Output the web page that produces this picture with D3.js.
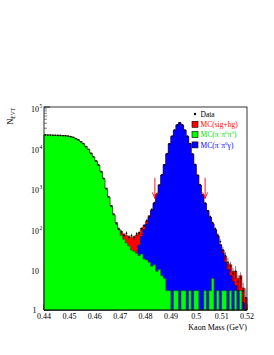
<!DOCTYPE html>
<html><head><meta charset="utf-8">
<script src="https://cdn.jsdelivr.net/npm/d3@7"></script>
<style>html,body{margin:0;padding:0;background:#fff;}svg{display:block;}</style>
</head><body>
<script>
// ---- data (bins of 0.001 GeV from 0.44 to 0.52) ----
const binStart = 0.44;
const binWidth = 0.001;
const mcGreen = [20500,20400,20300,20200,20100,20000,19900,19700,19500,19200,
  18700,17900,16800,15500,14000,12500,10700,9000,7300,5900,
  4700,3700,2600,1700,1000,600,370,220,140,95,
  68,55,45,38,30,28,25,22,24,18,
  17,15,12,13,9,10,7,6,3,3,
  1,3,3,1,3,3,1,3,1,3,
  3,1,1,3,1,3,6,1,3,1,
  3,3,1,3,1,3,1,3,1,0];
const mcBlue = [0,0,0,0,0,0,0,0,0,0,
  0,0,0,0,0,0,0,0,0,0,
  0,0,0,0,0,0,0,1,1,2,
  3,4,5,7,10,15,25,40,65,95,
  130,190,280,420,700,1200,2100,3800,7000,12500,
  19000,27000,36000,41000,36000,27000,19000,12500,7000,3800,
  2100,1200,700,420,280,190,130,95,65,40,
  25,15,10,7,5,4,3,2,1.5,1];
const mcOther = [0,0,0,0,0,0,0,0,0,0,
  0,0,0,0,0,0,0,0,0,0,
  0,0,0,0,0,0,0,0,0,0,
  15,15,18,20,20,22,20,18,15,10,
  8,5,3,0,0,0,0,0,0,0,
  0,0,0,0,0,0,0,0,0,0,
  0,0,0,0,0,0,0,0,0,0,
  2,3,3,3,3,2,2,2,1,1];
const dataCounts = [20600,20300,20350,20100,20150,19900,19950,19600,19550,19100,
  18600,17950,16700,15600,13900,12600,10600,9100,7200,6000,
  4650,3750,2550,1750,980,620,360,230,135,100,
  85,70,78,62,68,60,75,80,100,120,
  160,200,300,440,720,1180,2150,3750,7100,12400,
  19200,26800,36200,40800,36300,26900,19100,12600,6900,3850,
  2080,1220,690,430,275,200,140,100,70,48,
  30,22,15,12,8,9,5,6,3,2];
const cutValues = [0.4837, 0.5035];
const arrowRange = [1800, 560];
const xTicks = [0.44,0.45,0.46,0.47,0.48,0.49,0.50,0.51,0.52];
const xTickLabels = ["0.44","0.45","0.46","0.47","0.48","0.49","0.5","0.51","0.52"];
const yTicks = [1,10,100,1000,10000,100000];
const yTickExp = ["","", "2","3","4","5"];
const yTickBase = ["1","10","10","10","10","10"];
const legendLabels = [
  {name:"Data", parts:[["Data",0]], color:"#000"},
  {name:"sig", parts:[["MC(sig+bg)",0]], color:"#ff0000"},
  {name:"green", parts:[["MC(π",0],["+",1],["π",0],["0",1],["π",0],["0",1],[")",0]], color:"#00e000"},
  {name:"blue", parts:[["MC(π",0],["+",1],["π",0],["0",1],["γ)",0]], color:"#0000ff"}
];

// ---- layout ----
const W = 274, H = 355;
const L = 44, R = 247, T = 107, B = 310;
const svg = d3.select("body").append("svg").attr("width", W).attr("height", H);
const x = d3.scaleLinear().domain([0.44, 0.52]).range([L, R]);
const y = d3.scaleLog().domain([1, 1e5]).range([B, T]).clamp(true);
const yv = v => y(Math.max(v, 1));
const font = "'Liberation Serif','Times New Roman',serif";

// axes ticks (drawn first; histograms cover them like ROOT)
const g = svg.append("g");
yTicks.forEach((t, i) => {
  g.append("line").attr("x1", L).attr("x2", L + 6).attr("y1", y(t)).attr("y2", y(t)).attr("stroke", "#000").attr("stroke-width", 0.7);
  if (i < yTicks.length - 1) {
    for (let m = 2; m <= 9; m++) {
      const v = t * m;
      g.append("line").attr("x1", L).attr("x2", L + 3).attr("y1", y(v)).attr("y2", y(v)).attr("stroke", "#000").attr("stroke-width", 0.5);
    }
  }
});
xTicks.forEach(t => {
  g.append("line").attr("x1", x(t)).attr("x2", x(t)).attr("y1", B).attr("y2", B - 6).attr("stroke", "#000").attr("stroke-width", 0.7);
});
d3.range(0.44, 0.5201, 0.002).forEach(t => {
  g.append("line").attr("x1", x(t)).attr("x2", x(t)).attr("y1", B).attr("y2", B - 3).attr("stroke", "#000").attr("stroke-width", 0.5);
});

// histogram paths
function histPath(vals) {
  let p = "M" + x(binStart) + "," + B;
  vals.forEach((v, i) => {
    const x0 = x(binStart + i * binWidth), x1 = x(binStart + (i + 1) * binWidth);
    p += "L" + x0 + "," + yv(v) + "L" + x1 + "," + yv(v);
  });
  p += "L" + x(binStart + vals.length * binWidth) + "," + B + "Z";
  return p;
}
const mcTotal = mcGreen.map((v, i) => v + mcBlue[i] + mcOther[i]);
svg.append("path").attr("d", histPath(mcTotal)).attr("fill", "#ff0000").attr("stroke", "#8b0000").attr("stroke-width", 0.6);
svg.append("path").attr("d", histPath(mcBlue)).attr("fill", "#0000ff").attr("stroke", "#00008b").attr("stroke-width", 0.6);
svg.append("path").attr("d", histPath(mcGreen)).attr("fill", "#00ff00").attr("stroke", "#006400").attr("stroke-width", 0.6);

// data points with errors
const dg = svg.append("g");
dataCounts.forEach((n, i) => {
  const cx = x(binStart + (i + 0.5) * binWidth);
  const e = Math.sqrt(n);
  dg.append("line").attr("x1", cx).attr("x2", cx).attr("y1", yv(n - e)).attr("y2", yv(n + e)).attr("stroke", "#000").attr("stroke-width", 0.5);
  dg.append("circle").attr("cx", cx).attr("cy", yv(n)).attr("r", 0.85).attr("fill", "#000");
});

// cut arrows
cutValues.forEach(c => {
  const ax = x(c), y0 = y(arrowRange[0]), y1 = y(arrowRange[1]);
  svg.append("line").attr("x1", ax).attr("x2", ax).attr("y1", y0).attr("y2", y1).attr("stroke", "#ff0000").attr("stroke-width", 0.9);
  svg.append("path").attr("d", `M${ax - 2.5},${y1 - 6}L${ax},${y1}L${ax + 2.5},${y1 - 6}`).attr("fill", "none").attr("stroke", "#ff0000").attr("stroke-width", 0.9);
});

// frame
svg.append("rect").attr("x", L).attr("y", T).attr("width", R - L).attr("height", B - T).attr("fill", "none").attr("stroke", "#000").attr("stroke-width", 0.8);

// tick labels
xTicks.forEach((t, i) => {
  svg.append("text").attr("x", x(t)).attr("y", 319).attr("text-anchor", "middle").attr("font-family", font).attr("font-size", 8).attr("fill", "#000").text(xTickLabels[i]);
});
yTicks.forEach((t, i) => {
  if (i === 0) {
    svg.append("text").attr("x", 36.5).attr("y", y(t) + 3).attr("text-anchor", "end").attr("font-family", font).attr("font-size", 8).attr("fill", "#000").text(yTickBase[i]);
    return;
  }
  svg.append("text").attr("x", 39).attr("y", y(t) + 5).attr("text-anchor", "end").attr("font-family", font).attr("font-size", 8).attr("fill", "#000").text(yTickBase[i]);
  if (yTickExp[i]) svg.append("text").attr("x", 39.6).attr("y", y(t) + 1).attr("font-family", font).attr("font-size", 5.5).attr("fill", "#000").text(yTickExp[i]);
});

// axis titles
svg.append("text").attr("x", R).attr("y", 330).attr("text-anchor", "end").attr("font-family", font).attr("font-size", 8).attr("fill", "#000").text("Kaon Mass (GeV)");
const yt = svg.append("text").attr("transform", `translate(13,${T + 1}) rotate(-90)`).attr("text-anchor", "end").attr("font-family", font).attr("font-size", 8.5).attr("fill", "#000");
yt.append("tspan").text("N");
yt.append("tspan").attr("dy", 2).attr("font-size", 5.5).text("EVT");

// legend
const lx = 192, ly0 = 114, ldy = 10.3;
const legendFills = ["", "#ff0000", "#00ff00", "#0000ff"];
legendLabels.forEach((d, i) => {
  const cy = ly0 + i * ldy;
  if (i === 0) {
    svg.append("circle").attr("cx", lx + 3).attr("cy", cy).attr("r", 1.2).attr("fill", "#000");
  } else {
    svg.append("rect").attr("x", lx).attr("y", cy - 3).attr("width", 6).attr("height", 6).attr("fill", legendFills[i]).attr("stroke", "#000").attr("stroke-width", 0.6);
  }
  const t = svg.append("text").attr("x", lx + 8.5).attr("y", cy + 2.6).attr("font-family", font).attr("font-size", 7.5).attr("fill", d.color);
  let sup = false;
  d.parts.forEach(([s, isSup]) => {
    const sp = t.append("tspan").text(s);
    if (isSup) {
      sp.attr("font-size", 5);
      if (!sup) { sp.attr("dy", -2.8); sup = true; }
    } else if (sup) { sp.attr("dy", 2.8); sup = false; }
  });
});
</script>
</body></html>
